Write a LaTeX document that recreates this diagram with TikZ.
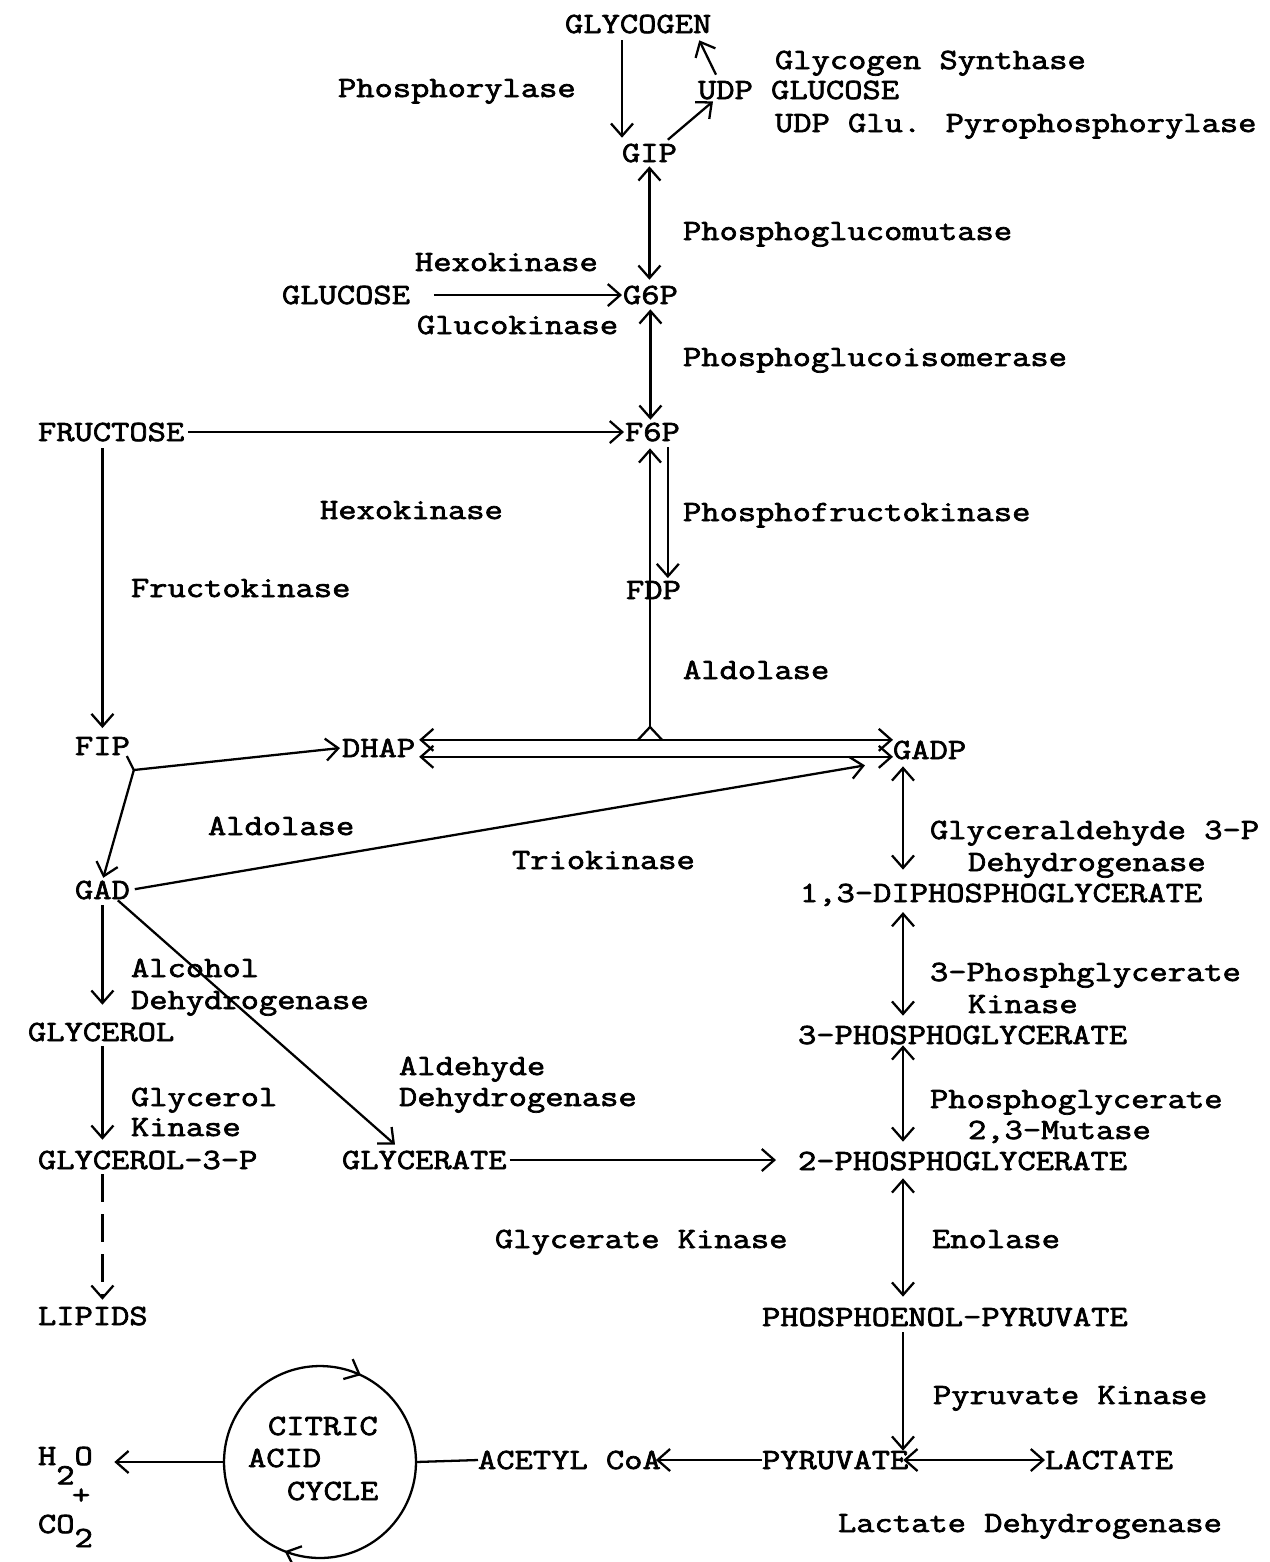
\documentclass[tikz,border=0pt]{standalone}
\usepackage{fontspec}
\newfontfamily\typewriter[FakeStretch=1.21, FakeBold=2.4]{Latin Modern Mono}
\usetikzlibrary{arrows.meta, positioning, calc, decorations.markings}

\begin{document}
\begin{tikzpicture}[
    x=0.02cm, y=0.02cm,
    every node/.style={font=\typewriter\fontsize{16.7}{18.2}\selectfont, inner sep=0pt, outer sep=0pt},
    met/.style={anchor=base west},
    enz/.style={anchor=base west},
    link/.style={line width=1.3pt},
    arr/.style={link, -{Straight Barb[length=2.5mm, width=4.4mm]}},
    biarr/.style={link, {Straight Barb[length=2.5mm, width=4.4mm]}-{Straight Barb[length=2.5mm, width=4.4mm]}}
]
    \useasboundingbox (0,0) rectangle (1270,-1562);

    % Glycogen and hexoses
    \node[met] (glycogen) at (565,-33) {GLYCOGEN};
    \node[enz] (phos) at (338,-97) {Phosphorylase};
    \node[enz] (gsyn) at (775,-69) {Glycogen Synthase};
    \node[met] (udpg) at (698,-99) {UDP GLUCOSE};
    \node[enz] (udppp) at (775,-132) {UDP Glu. Pyrophosphorylase};
    \node[met] (gip) at (622,-162) {GIP};
    \node[enz] (pgm) at (683,-240) {Phosphoglucomutase};
    \node[enz] (hexo1) at (415,-271) {Hexokinase};
    \node[met] (glucose) at (282,-304) {GLUCOSE};
    \node[met] (g6p) at (623,-304) {G6P};
    \node[enz] (gluco) at (417,-334) {Glucokinase};
    \node[enz] (pgi) at (683,-366) {Phosphoglucoisomerase};
    \node[met] (fructose) at (38,-441) {FRUCTOSE};
    \node[met] (f6p) at (625,-441) {F6P};
    \node[enz] (hexo2) at (320,-519) {Hexokinase};
    \node[enz] (pfk) at (683,-521) {Phosphofructokinase};
    \node[enz] (fk) at (131,-597) {Fructokinase};
    \node[met] (fdp) at (626,-599) {FDP};
    \node[enz] (aldo1) at (683,-679) {Aldolase};

    % Trioses
    \node[met] (fip) at (75,-755) {FIP};
    \node[met] (dhap) at (342,-757) {DHAP};
    \node[met] (gadp) at (893,-759) {GADP};
    \node[enz] (aldo2) at (208,-835) {Aldolase};
    \node[enz] (trio) at (512,-869) {Triokinase};
    \node[enz] (gapdh) at (930,-839) {Glyceraldehyde 3-P};
    \node[enz] (gapdhb) at (968,-871) {Dehydrogenase};
    \node[met] (gad) at (75,-899) {GAD};
    \node[met] (dpg) at (800,-902) {1,3-DIPHOSPHOGLYCERATE};
    \node[enz] (adh) at (131,-977) {Alcohol};
    \node[enz] (adhb) at (131,-1009) {Dehydrogenase};
    \node[met] (glycerol) at (28,-1041) {GLYCEROL};
    \node[enz] (pgk) at (930,-981) {3-Phosphglycerate};
    \node[enz] (pgkb) at (968,-1013) {Kinase};
    \node[met] (pg3) at (798,-1044) {3-PHOSPHOGLYCERATE};
    \node[enz] (aldh) at (399,-1075) {Aldehyde};
    \node[enz] (aldhb) at (399,-1106) {Dehydrogenase};
    \node[enz] (gk) at (131,-1106) {Glycerol};
    \node[enz] (gkb) at (131,-1136) {Kinase};
    \node[enz] (pgam) at (930,-1108) {Phosphoglycerate};
    \node[enz] (pgamb) at (968,-1139) {2,3-Mutase};
    \node[met] (g3p) at (38,-1169) {GLYCEROL-3-P};
    \node[met] (glycerate) at (342,-1169) {GLYCERATE};
    \node[met] (pg2) at (798,-1170) {2-PHOSPHOGLYCERATE};
    \node[enz] (gck) at (495,-1248) {Glycerate Kinase};
    \node[enz] (eno) at (932,-1248) {Enolase};
    \node[met] (lipids) at (38,-1325) {LIPIDS};
    \node[met] (pep) at (762,-1326) {PHOSPHOENOL-PYRUVATE};
    \node[enz] (pk) at (933,-1404) {Pyruvate Kinase};

    % Pyruvate and the cycle
    \node[met] (acetyl) at (478,-1469) {ACETYL CoA};
    \node[met] (pyruvate) at (762,-1469) {PYRUVATE};
    \node[met] (lactate) at (1045,-1469) {LACTATE};
    \node[enz] (ldh) at (838,-1532) {Lactate Dehydrogenase};
    \node[circle, minimum size=3.84cm] (tca) at (320,-1462) {};
    \node[met] (tca1) at (268,-1435) {CITRIC};
    \node[met] (tca2) at (248,-1467) {ACID};
    \node[met] (tca3) at (287,-1500) {CYCLE};
    \node[met] (water) at (38,-1465) {H\raisebox{-11pt}{2}O};
    \node[met] (plus) at (72,-1504) {+};
    \node[met] (co2) at (38,-1533) {CO\raisebox{-8pt}{2}};

    % Connectors, top part
    \draw[arr, shorten <=1.4mm, shorten >=1.2mm] (glycogen.south -| gip.west) -- (gip.north west);
    \draw[arr] ($(gip.north east)+(-9,4)$) -- ($(udpg.south west)+(15,-2)$);
    \draw[arr] ($(udpg.north west)+(18,6)$) -- ($(glycogen.south east)+(-12,-7)$);
    \draw[biarr, shorten <=0.8mm, shorten >=1.2mm] (gip.south) -- (gip.south |- g6p.north);
    \draw[arr, shorten <=4.8mm, shorten >=0.2mm] (glucose.east) -- (g6p.west);
    \draw[biarr, shorten <=1mm, shorten >=0.6mm] (g6p.south) -- (g6p.south |- f6p.north);
    \draw[arr, shorten <=0.8mm, shorten >=0.2mm] (fructose.east) -- (f6p.west);
    \coordinate (pfkline) at ($(f6p.south east)+(-12,-6)$);
    \draw[arr, shorten >=0.6mm] (pfkline) -- (pfkline |- fdp.north);

    % Aldolase split
    \coordinate (split) at ($(fdp.south west)+(24,-128)$);
    \coordinate (dhaptop) at ($(dhap.east)+(4,8)$);
    \coordinate (dhapbot) at ($(dhap.east)+(4,-9)$);
    \draw[arr, shorten >=1.4mm] (split) -- (split |- f6p.south);
    \draw[link] (split) -- ($(split |- dhaptop)+(-12,0)$);
    \draw[link] (split) -- ($(split |- dhaptop)+(12,0)$);
    \draw[biarr] (dhaptop) -- (dhaptop -| gadp.west);
    \draw[biarr] (dhapbot) -- (dhapbot -| gadp.west);

    % Fructose branch
    \draw[arr, shorten <=1.4mm, shorten >=1.8mm] (fructose.south -| fip.north) -- (fip.north);
    \coordinate (fipfork) at ($(fip.south east)+(4,-15)$);
    \draw[link] ($(fip.south east)+(-3,-1)$) -- (fipfork);
    \draw[arr, shorten >=0.4mm] (fipfork) -- (dhap.west);
    \draw[arr, shorten >=0.6mm] (fipfork) -- (gad.north);
    \draw[arr, shorten <=1mm] (gad.east) -- ($(gadp.south west)+(-28,-6)$);

    % Main chain
    \coordinate (axis) at ($(gadp.south west)+(10,0)$);
    \draw[biarr, shorten <=1.4mm, shorten >=2.8mm] (axis) -- (axis |- dpg.north);
    \draw[biarr, shorten <=1.2mm, shorten >=2mm] (axis |- dpg.south) -- (axis |- pg3.north);
    \draw[biarr, shorten <=0.2mm, shorten >=2mm] (axis |- pg3.south) -- (axis |- pg2.north);
    \draw[biarr, shorten <=1.6mm, shorten >=2.2mm] (axis |- pg2.south) -- (axis |- pep.north);
    \draw[arr, shorten <=1.2mm] (axis |- pep.south) -- (axis |- pyruvate.north);
    \draw[arr, shorten <=0.6mm, shorten >=4.4mm] (glycerate.east) -- (glycerate.east -| pg2.west);

    % Glycerol side
    \coordinate (laxis) at (gad.south);
    \draw[arr, shorten <=1.2mm, shorten >=3.6mm] (laxis) -- (laxis |- glycerol.north);
    \draw[arr, shorten <=1mm, shorten >=2.2mm] (laxis |- glycerol.south) -- (laxis |- g3p.north);
    \draw[arr, dash pattern=on 5.6mm off 2.4mm, shorten <=1mm, shorten >=1.4mm] (laxis |- g3p.south) -- (laxis |- lipids.north);
    \draw[arr] ($(gad.south east)+(-12,-1)$) -- ($(glycerate.north west)+(53,6)$);

    % Cycle
    \draw[link, postaction={decorate}, decoration={markings,
        mark=at position 0.18 with {\arrowreversed{Straight Barb[length=2.5mm, width=4.4mm]}},
        mark=at position 0.69 with {\arrowreversed{Straight Barb[length=2.5mm, width=4.4mm]}}}]
        (tca.center) circle[radius=1.92cm];
    \draw[arr, shorten >=4.3mm] (tca.west) -- (tca.west -| water.east);
    \draw[link] (acetyl.west) -- (tca.east);
    \draw[arr, shorten >=-1mm] (pyruvate.west) -- (acetyl.east);
    \draw[biarr, shorten <=-1mm] (pyruvate.east) -- (lactate.west);
\end{tikzpicture}
\end{document}
